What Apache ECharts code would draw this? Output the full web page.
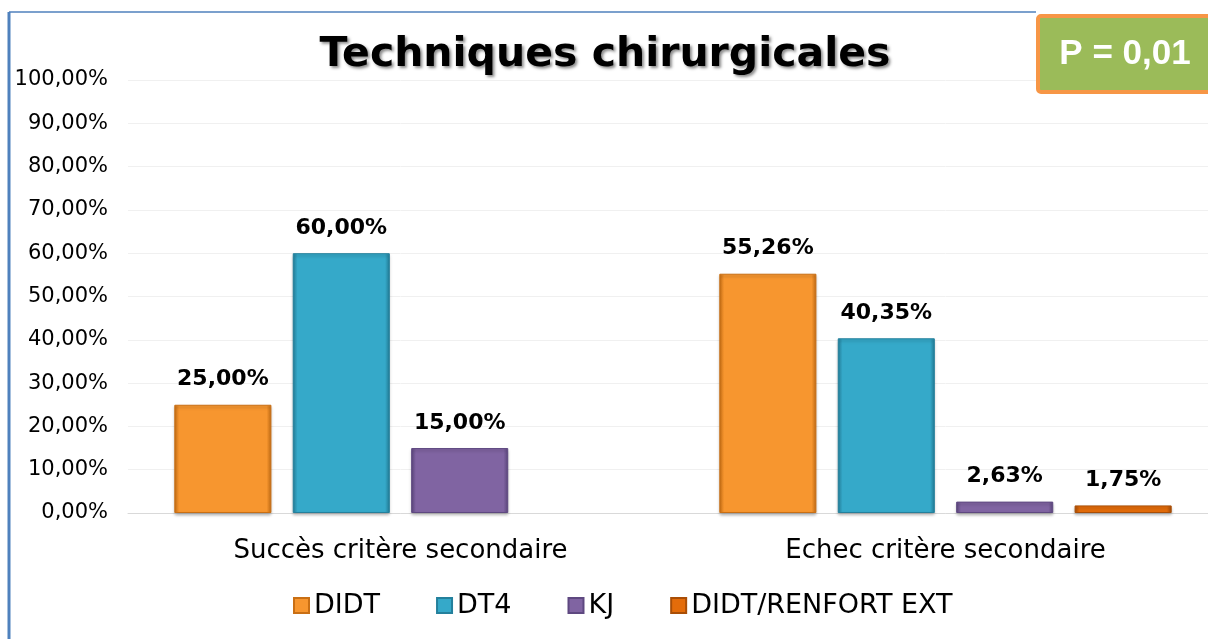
<!DOCTYPE html>
<html style="height: 100%">
<head>
    <meta charset="utf-8">
</head>
<body style="height: 100%; margin: 0; background: #fff; overflow: hidden">
<!-- la zone de tracé d'Excel déborde un peu à droite : conteneur un peu plus large que la fenêtre -->
<div id="container" style="width: 1218px; height: 639px"></div>
<script type="text/javascript" src="https://cdn.jsdelivr.net/npm/echarts@6/dist/echarts.min.js"></script>
<script type="text/javascript">
    var dom = document.getElementById("container");
    var myChart = echarts.init(dom);

    // données (en %)
    var categories = ['Succès critère secondaire', 'Echec critère secondaire'];
    var didt = [25.00, 55.26];
    var dt4 = [60.00, 40.35];
    var kj = [15.00, 2.63];
    var renfort = [null, 1.75];
    var seriesNames = ['DIDT', 'DT4', 'KJ', 'DIDT/RENFORT EXT'];
    var colors = ['#F7962F', '#35A9C9', '#8064A2', '#E46C0A'];
    var darks = ['#C96F14', '#24809C', '#5E4880', '#A94E06'];

    function pct(v) {
        return v.toFixed(2).replace('.', ',') + '%';
    }

    function barStyle(i) {
        return {
            color: new echarts.graphic.LinearGradient(0, 0, 1, 0, [
                {offset: 0, color: darks[i]},
                {offset: 0.05, color: colors[i]},
                {offset: 0.95, color: colors[i]},
                {offset: 1, color: darks[i]}
            ]),
            borderColor: darks[i],
            borderWidth: 1,
            shadowColor: 'rgba(0,0,0,0.25)',
            shadowBlur: 3,
            shadowOffsetY: 2
        };
    }

    var allData = [didt, dt4, kj, renfort];
    var series = allData.map(function (d, i) {
        return {
            name: seriesNames[i],
            type: 'bar',
            data: d,
            barGap: '22%',
            barCategoryGap: '17%',
            itemStyle: barStyle(i),
            label: {
                show: true,
                position: 'top',
                distance: 14,
                fontFamily: 'DejaVu Sans',
                fontWeight: 'bold',
                fontSize: 22,
                color: '#000',
                formatter: function (p) { return pct(p.value); }
            }
        };
    });

    var option = {
        animation: false,
        color: colors,
        title: {
            text: 'Techniques chirurgicales',
            left: 600,
            textAlign: 'center',
            top: 30,
            textStyle: {
                fontFamily: 'DejaVu Sans',
                fontWeight: 'bold',
                fontSize: 41,
                color: '#000',
                textShadowColor: 'rgba(0,0,0,0.45)',
                textShadowBlur: 3,
                textShadowOffsetX: 2,
                textShadowOffsetY: 2
            }
        },
        grid: {
            left: 128,
            right: 0,
            top: 80,
            bottom: 126
        },
        legend: {
            bottom: 15,
            left: 288,
            itemWidth: 15,
            itemHeight: 15,
            itemGap: 56,
            icon: 'rect',
            textStyle: {
                fontFamily: 'DejaVu Sans',
                fontSize: 27,
                color: '#000'
            }
        },
        xAxis: {
            type: 'category',
            data: categories,
            axisTick: {show: false},
            axisLine: {lineStyle: {color: '#d9d9d9'}},
            axisLabel: {
                margin: 25,
                fontFamily: 'DejaVu Sans',
                fontSize: 26,
                color: '#000'
            }
        },
        yAxis: {
            type: 'value',
            min: 0,
            max: 100,
            interval: 10,
            axisLine: {show: false},
            axisTick: {show: false},
            splitLine: {lineStyle: {color: '#f0f0f0'}},
            axisLabel: {
                margin: 20,
                fontFamily: 'DejaVu Sans',
                fontSize: 21,
                color: '#000',
                formatter: pct
            }
        },
        series: series,
        graphic: [
            {
                type: 'line',
                z: 100,
                shape: {x1: 9, y1: 12, x2: 9, y2: 639},
                style: {stroke: '#4F81BD', lineWidth: 3}
            },
            {
                type: 'line',
                z: 100,
                shape: {x1: 9, y1: 12, x2: 1036, y2: 12},
                style: {stroke: '#4F81BD', lineWidth: 1.5}
            },
            {
                type: 'group',
                left: 1036,
                top: 14,
                z: 100,
                children: [
                    {
                        type: 'rect',
                        z: 100,
                        shape: {x: 0, y: 0, width: 185, height: 76, r: 3},
                        style: {fill: '#9BBB59', stroke: '#F79646', lineWidth: 4}
                    },
                    {
                        type: 'text',
                        z: 101,
                        x: 87,
                        y: 38,
                        style: {
                            text: 'P = 0,01',
                            fill: '#fff',
                            fontFamily: 'Liberation Sans',
                            fontWeight: 'bold',
                            fontSize: 35,
                            align: 'center',
                            verticalAlign: 'middle'
                        }
                    }
                ]
            }
        ]
    };

    myChart.setOption(option);
</script>
</body>
</html>
